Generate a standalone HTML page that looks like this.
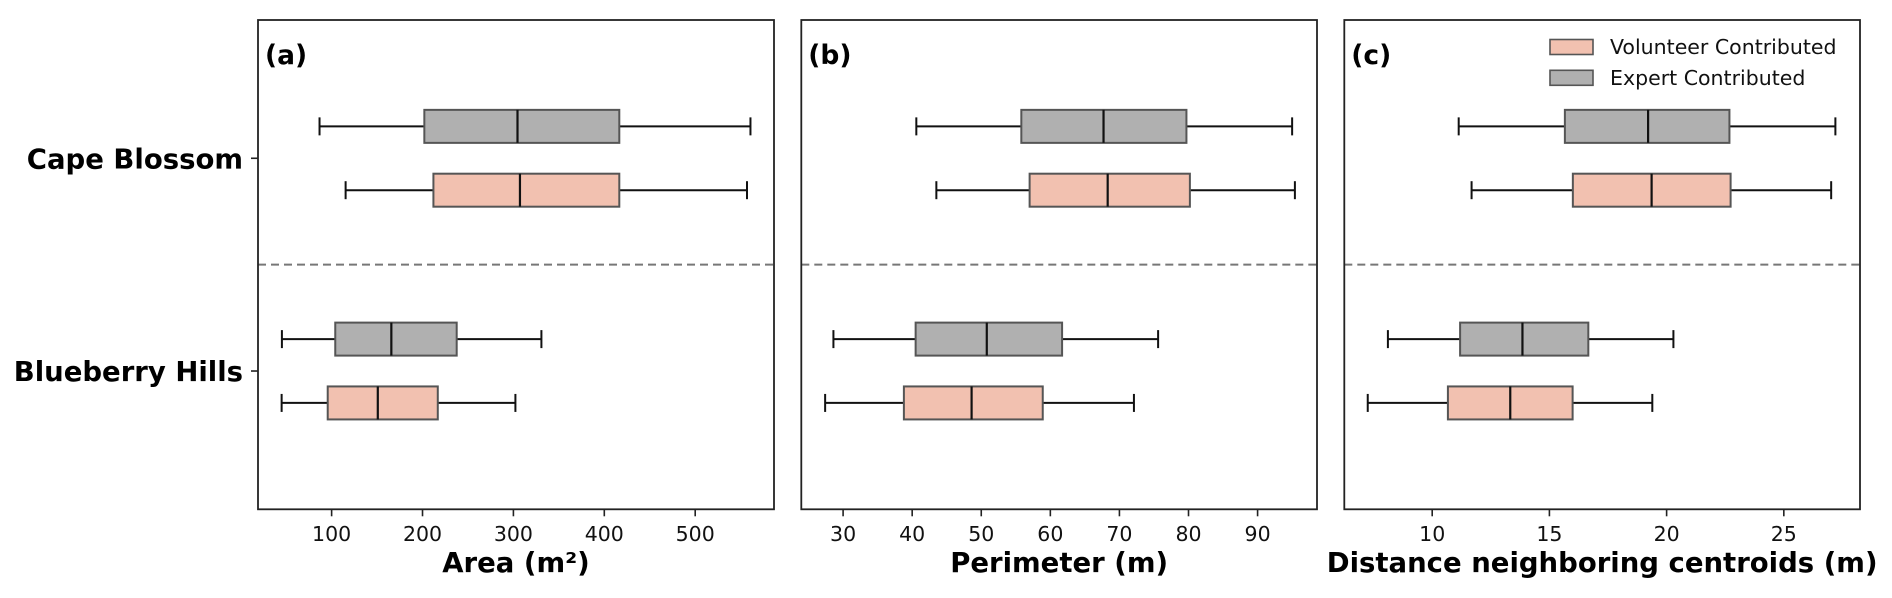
<!DOCTYPE html>
<html><head><meta charset="utf-8"><style>
html,body{margin:0;padding:0;background:#fff;}
svg{display:block;font-family:"DejaVu Sans","Liberation Sans",sans-serif;}
</style></head><body>
<svg id="chart" width="1892" height="598" viewBox="0 0 1892 598" xmlns="http://www.w3.org/2000/svg"></svg>
<script>
const sites = ["Cape Blossom", "Blueberry Hills"];
const groups = ["Expert Contributed", "Volunteer Contributed"];
// [whiskerLow, q1, median, q3, whiskerHigh]
const areaExpert = [[86.7, 202, 304.5, 416.5, 560.8], [45.3, 104, 165.7, 237.6, 330.8]];
const areaVolunteer = [[115.4, 212, 307.2, 416.5, 557], [45, 95.7, 150.8, 216.8, 302.2]];
const perimExpert = [[40.6, 55.8, 67.7, 79.7, 95.0], [28.6, 40.5, 50.8, 61.7, 75.6]];
const perimVolunteer = [[43.5, 57.0, 68.3, 80.2, 95.4], [27.4, 38.8, 48.6, 58.9, 72.1]];
const distExpert = [[11.13, 15.66, 19.21, 22.68, 27.2], [8.11, 11.19, 13.85, 16.66, 20.29]];
const distVolunteer = [[11.68, 16.0, 19.36, 22.73, 27.02], [7.25, 10.67, 13.33, 15.99, 19.39]];
const areaTicks = [100, 200, 300, 400, 500];
const perimTicks = [30, 40, 50, 60, 70, 80, 90];
const distTicks = [10, 15, 20, 25];

const NS = "http://www.w3.org/2000/svg";
const svg = document.getElementById("chart");
function mk(tag, attrs, parent, text) {
  const e = document.createElementNS(NS, tag);
  for (const k in attrs) e.setAttribute(k, attrs[k]);
  if (text !== undefined) e.textContent = text;
  (parent || svg).appendChild(e);
  return e;
}
const TOP = 20, BOT = 509.3;
const yMin = -0.65, yMax = 1.65;
function yScale(v) { return BOT - (v - yMin) / (yMax - yMin) * (BOT - TOP); }
const sitePos = [1, 0];
const COLORS = {"Expert Contributed": "#b0b0b0", "Volunteer Contributed": "#f2c1b0"};

const panels = [
  {key: "area", left: 258, right: 774, xmin: 19, xmax: 586.7, ticks: areaTicks, exp: areaExpert, vol: areaVolunteer, label: "(a)", title: "Area (m²)"},
  {key: "perimeter", left: 801.3, right: 1317, xmin: 23.95, xmax: 98.6, ticks: perimTicks, exp: perimExpert, vol: perimVolunteer, label: "(b)", title: "Perimeter (m)"},
  {key: "distance", left: 1344.3, right: 1860, xmin: 6.25, xmax: 28.25, ticks: distTicks, exp: distExpert, vol: distVolunteer, label: "(c)", title: "Distance neighboring centroids (m)"}
];

function drawBox(g, x, stats, yc, color, name) {
  const h = 33, cap = 18;
  const bg = mk("g", {}, g);
  
  
  mk("line", {x1: x(stats[0]), x2: x(stats[1]), y1: yc, y2: yc, stroke: "#111", "stroke-width": 2}, bg);
  mk("line", {x1: x(stats[3]), x2: x(stats[4]), y1: yc, y2: yc, stroke: "#111", "stroke-width": 2}, bg);
  mk("line", {x1: x(stats[0]), x2: x(stats[0]), y1: yc - cap/2, y2: yc + cap/2, stroke: "#111", "stroke-width": 2}, bg);
  mk("line", {x1: x(stats[4]), x2: x(stats[4]), y1: yc - cap/2, y2: yc + cap/2, stroke: "#111", "stroke-width": 2}, bg);
  mk("rect", {x: x(stats[1]), y: yc - h/2, width: x(stats[3]) - x(stats[1]), height: h, fill: color, stroke: "#555", "stroke-width": 2}, bg);
  mk("line", {x1: x(stats[2]), x2: x(stats[2]), y1: yc - h/2, y2: yc + h/2, stroke: "#111", "stroke-width": 2.2}, bg);
}

panels.forEach((p, pi) => {
  const g = mk("g", {});
  
  
  const x = v => p.left + (v - p.xmin) / (p.xmax - p.xmin) * (p.right - p.left);
  const dl = mk("line", {x1: p.left, x2: p.right, y1: yScale(0.5), y2: yScale(0.5), stroke: "#777", "stroke-width": 2, "stroke-dasharray": "8,5"}, g);
  
  
  sites.forEach((s, si) => {
    drawBox(g, x, p.exp[si], yScale(sitePos[si] + 0.15), COLORS["Expert Contributed"], p.key + '-expert-box-' + s.toLowerCase().replace(/ /g, '-'));
    drawBox(g, x, p.vol[si], yScale(sitePos[si] - 0.15), COLORS["Volunteer Contributed"], p.key + '-volunteer-box-' + s.toLowerCase().replace(/ /g, '-'));
  });
  const fr = mk("rect", {x: p.left, y: TOP, width: p.right - p.left, height: BOT - TOP, fill: "none", stroke: "#222", "stroke-width": 1.8}, g);
  
  
  const ax = mk("g", {}, g);
  
  
  p.ticks.forEach(t => {
    mk("line", {x1: x(t), x2: x(t), y1: BOT, y2: BOT + 7, stroke: "#222", "stroke-width": 1.6}, ax);
    const tl = mk("text", {x: x(t), y: 541, "text-anchor": "middle", "font-size": 20.5, fill: "#111"}, ax, String(t));
    
    
  });
  const tt = mk("text", {x: (p.left + p.right) / 2, y: 572, "text-anchor": "middle", "font-size": 27.5, "font-weight": "bold", fill: "#000"}, g, p.title);
  
  
  const pl = mk("text", {x: p.left + 7, y: 64, "font-size": 26.5, "font-weight": "bold", fill: "#000"}, g, p.label);
  
  
  if (pi === 0) {
    sites.forEach((s, si) => {
      const yc = yScale(sitePos[si]);
      mk("line", {x1: p.left - 7, x2: p.left, y1: yc, y2: yc, stroke: "#222", "stroke-width": 1.6}, g);
      const yl = mk("text", {x: 243, y: yc + 10, "text-anchor": "end", "font-size": 27.5, "font-weight": "bold", fill: "#000"}, g, s);
      
      
    });
  }
});

const lg = mk("g", {});


[["Volunteer Contributed", 39.5], ["Expert Contributed", 70.3]].forEach(([name, y]) => {
  const e = mk("g", {}, lg);
  
  
  mk("rect", {x: 1550, y: y, width: 43, height: 15, fill: COLORS[name], stroke: "#555", "stroke-width": 1.6}, e);
  mk("text", {x: 1610, y: y + 14.5, "font-size": 20.5, fill: "#111"}, e, name);
});
</script>
</body></html>
